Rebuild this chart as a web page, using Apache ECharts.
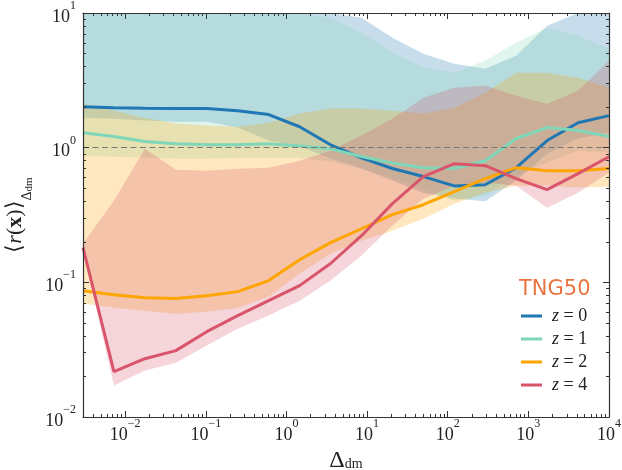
<!DOCTYPE html>
<html>
<head>
<meta charset="utf-8">
<script src="https://cdn.jsdelivr.net/npm/echarts@6/dist/echarts.min.js"></script>
<style>
  html, body { margin: 0; padding: 0; background: #fff; }
  #chart { width: 622px; height: 470px; }
</style>
</head>
<body>
<div id="chart"></div>
<script>
  // Delta_dm bin centres (log spaced)
  const deltaDm = [0.003, 0.00726, 0.01756, 0.04248, 0.1028, 0.2487, 0.6017, 1.456, 3.522,
    8.52, 20.61, 49.87, 120.6, 291.9, 706.1, 1708, 4133, 10000];

  // <r(x)> per redshift: median line, upper and lower envelope
  const z0Median = [2.01, 1.98, 1.96, 1.95, 1.95, 1.88, 1.76, 1.43, 1.05, 0.84, 0.70, 0.61, 0.52, 0.53, 0.71, 1.13, 1.53, 1.73];
  const z0Upper = [15, 15, 15, 15, 15, 15, 15, 15, 15, 9.23, 6.56, 4.99, 4.20, 3.86, 4.82, 8.05, 10.5, 12];
  const z0Lower = [1.67, 1.64, 1.59, 1.56, 1.56, 1.41, 1.13, 1.02, 0.83, 0.70, 0.57, 0.46, 0.42, 0.40, 0.57, 0.90, 1.17, 1.29];

  const z1Median = [1.29, 1.21, 1.11, 1.07, 1.05, 1.05, 1.07, 1.03, 0.98, 0.86, 0.77, 0.71, 0.70, 0.80, 1.17, 1.41, 1.34, 1.21];
  const z1Upper = [15, 15, 15, 15, 15, 15, 15, 15, 9.23, 7.14, 5.08, 3.93, 3.60, 4.43, 6.02, 7.78, 6.79, 5.43];
  const z1Lower = [0.872, 0.857, 0.843, 0.829, 0.829, 0.843, 0.843, 0.843, 0.787, 0.698, 0.589, 0.496, 0.404, 0.44, 0.62, 0.774, 0.95, 0.918];

  const z2Median = [0.0867, 0.081, 0.0769, 0.0757, 0.0796, 0.0853, 0.103, 0.147, 0.197, 0.250, 0.318, 0.377, 0.471, 0.589, 0.71, 0.675, 0.675, 0.70];
  const z2Upper = [2.12, 1.88, 1.67, 1.51, 1.46, 1.43, 1.53, 1.79, 1.95, 1.95, 1.88, 1.79, 1.98, 2.56, 3.60, 3.60, 3.31, 2.79];
  const z2Lower = [0.0695, 0.0648, 0.0616, 0.0585, 0.0605, 0.0648, 0.0783, 0.116, 0.163, 0.204, 0.242, 0.297, 0.384, 0.463, 0.522, 0.522, 0.505, 0.513];

  const z4Median = [0.181, 0.0217, 0.0271, 0.0311, 0.043, 0.0566, 0.0731, 0.0945, 0.138, 0.222, 0.384, 0.609, 0.76, 0.735, 0.589, 0.488, 0.641, 0.857];
  const z4Upper = [0.194, 0.404, 0.983, 0.686, 0.675, 0.698, 0.71, 0.80, 0.95, 1.23, 1.64, 2.35, 2.79, 2.89, 2.43, 2.12, 2.65, 4.43];
  const z4Lower = [0.172, 0.0171, 0.0221, 0.0253, 0.0339, 0.0453, 0.0566, 0.0731, 0.103, 0.158, 0.264, 0.418, 0.522, 0.55, 0.522, 0.358, 0.463, 0.652];

  const seriesNames = ['z = 0', 'z = 1', 'z = 2', 'z = 4'];
  const colors = ['#1f77b4', '#7fd6b8', '#ffa500', '#d9556b'];

  // axis ranges and ticks (real units, drawn on log10 value axes)
  const xRange = [0.003, 10000];
  const yRange = [0.01, 10];
  const xMajor = [0.01, 0.1, 1, 10, 100, 1000, 10000];
  const yMajor = [0.01, 0.1, 1, 10];
  const refLevel = 1;

  const chart = echarts.init(document.getElementById('chart'));
  const serif = 'Liberation Serif';
  const ink = '#222';
  const yTop = Math.log10(yRange[1]);
  const yBot = Math.log10(yRange[0]);

  function minorTicks(range) {
    const out = [];
    for (let e = -3; e <= 4; e++) {
      for (let k = 2; k <= 9; k++) {
        const v = k * Math.pow(10, e);
        if (v > range[0] && v < range[1]) out.push(Math.log10(v));
      }
    }
    return out;
  }

  function pts(vals) {
    return deltaDm.map((x, i) => [Math.log10(x), Math.log10(vals[i])]);
  }
  function bandRows(lo, hi) {
    return deltaDm.map((x, i) => [Math.log10(x), Math.log10(lo[i]), Math.log10(hi[i])]);
  }

  const powLabel = v => {
    const e = Math.round(v);
    return '{b|10}{e|' + (e < 0 ? '\u2212' + (-e) : e) + '}';
  };
  const powRich = {
    b: { fontFamily: serif, fontSize: 18, color: ink, lineHeight: 26, verticalAlign: 'bottom' },
    e: { fontFamily: serif, fontSize: 12, color: ink, lineHeight: 15, verticalAlign: 'top' }
  };

  function axis(dim, pos, range, ticks, len, main, labels) {
    const a = {
      type: 'value',
      position: pos,
      z: 10,
      min: Math.log10(range[0]),
      max: Math.log10(range[1]),
      splitLine: { show: false },
      axisLine: { show: main, onZero: false, lineStyle: { color: '#333', width: 1.2 } },
      axisTick: { show: true, inside: true, length: len, customValues: ticks, lineStyle: { color: '#333', width: 1 } },
      axisLabel: { show: false }
    };
    if (labels) {
      a.axisLabel = {
        show: true,
        customValues: ticks,
        formatter: powLabel,
        rich: powRich,
        margin: dim === 'x' ? 1 : 7
      };
    }
    return a;
  }

  const xMaj = xMajor.map(Math.log10);
  const yMaj = yMajor.map(Math.log10);

  const xAxes = [
    axis('x', 'bottom', xRange, xMaj, 6, true, true),
    axis('x', 'bottom', xRange, minorTicks(xRange), 3, false, false),
    axis('x', 'top', xRange, xMaj, 6, true, false),
    axis('x', 'top', xRange, minorTicks(xRange), 3, false, false)
  ];
  xAxes[0].name = '{d|\u0394}{s|dm}';
  xAxes[0].nameLocation = 'middle';
  xAxes[0].nameGap = 26;
  xAxes[0].nameTextStyle = {
    rich: {
      d: { fontFamily: serif, fontSize: 24, color: ink, lineHeight: 22, verticalAlign: 'top' },
      s: { fontFamily: serif, fontSize: 14, color: ink, lineHeight: 12, verticalAlign: 'bottom' }
    }
  };

  const yAxes = [
    axis('y', 'left', yRange, yMaj, 6, true, true),
    axis('y', 'left', yRange, minorTicks(yRange), 3, false, false),
    axis('y', 'right', yRange, yMaj, 6, true, false),
    axis('y', 'right', yRange, minorTicks(yRange), 3, false, false)
  ];
  yAxes[0].name = '{a|\u27e8}{i|r}{a|(}{x|x}{a|)\u27e9}{s|\u0394}{t|dm}';
  yAxes[0].nameLocation = 'middle';
  yAxes[0].nameRotate = 90;
  yAxes[0].nameGap = 48;
  yAxes[0].nameTextStyle = {
    rich: {
      a: { fontFamily: serif, fontSize: 22, color: ink, lineHeight: 30, verticalAlign: 'top' },
      i: { fontFamily: serif, fontStyle: 'italic', fontSize: 22, color: ink, lineHeight: 30, verticalAlign: 'top' },
      x: { fontFamily: serif, fontWeight: 'bold', fontSize: 22, color: ink, lineHeight: 30, verticalAlign: 'top' },
      s: { fontFamily: serif, fontSize: 14, color: ink, lineHeight: 15, verticalAlign: 'bottom' },
      t: { fontFamily: serif, fontSize: 11, color: ink, lineHeight: 13, verticalAlign: 'bottom' }
    }
  };

  const bands = [[z0Lower, z0Upper], [z1Lower, z1Upper], [z2Lower, z2Upper], [z4Lower, z4Upper]];
  const medians = [z0Median, z1Median, z2Median, z4Median];

  // one filled polygon per band: lower edge left->right, upper edge back
  function bandRenderer(color) {
    return function (params, api) {
      if (params.dataIndex !== 0) return null;
      const lower = [], upper = [];
      for (let i = 0; i < deltaDm.length; i++) {
        const x = api.value(0, i);
        const lo = Math.max(yBot, Math.min(yTop, api.value(1, i)));
        const hi = Math.max(yBot, Math.min(yTop, api.value(2, i)));
        lower.push(api.coord([x, lo]));
        upper.unshift(api.coord([x, hi]));
      }
      return {
        type: 'polygon',
        shape: { points: lower.concat(upper) },
        style: { fill: color, opacity: 0.25 },
        silent: true
      };
    };
  }

  const series = [];
  bands.forEach((b, i) => {
    series.push({
      type: 'custom', data: bandRows(b[0], b[1]), clip: true, z: 1, silent: true,
      encode: { x: 0, y: [1, 2] },
      renderItem: bandRenderer(colors[i])
    });
  });
  series.push({
    type: 'line', data: [], z: 2,
    markLine: {
      silent: true, symbol: 'none', label: { show: false },
      lineStyle: { color: '#777', type: [6, 3.5], width: 1 },
      data: [{ yAxis: Math.log10(refLevel) }]
    }
  });
  medians.forEach((m, i) => {
    series.push({
      name: seriesNames[i], type: 'line', data: pts(m), symbol: 'none',
      lineStyle: { color: colors[i], width: 3 }, itemStyle: { color: colors[i] }, z: 3
    });
  });

  chart.setOption({
    animation: false,
    grid: { left: 83, right: 13, top: 13, bottom: 53, outerBoundsMode: 'none' },
    title: {
      text: 'TNG50', left: 514, top: 274,
      textStyle: { color: '#ea7441', fontFamily: 'DejaVu Sans', fontSize: 21, fontWeight: 'normal' }
    },
    legend: {
      data: seriesNames, orient: 'vertical', left: 516, top: 302,
      icon: 'rect', itemWidth: 21, itemHeight: 3, itemGap: 5,
      formatter: n => '{i|z}{t| = ' + n.split('= ')[1] + '}',
      textStyle: {
        rich: {
          i: { fontFamily: serif, fontStyle: 'italic', fontSize: 18, color: ink, lineHeight: 20, padding: [0, 0, 0, 5] },
          t: { fontFamily: serif, fontSize: 18, color: ink, lineHeight: 20 }
        }
      }
    },
    xAxis: xAxes,
    yAxis: yAxes,
    series: series
  });
</script>
</body>
</html>
